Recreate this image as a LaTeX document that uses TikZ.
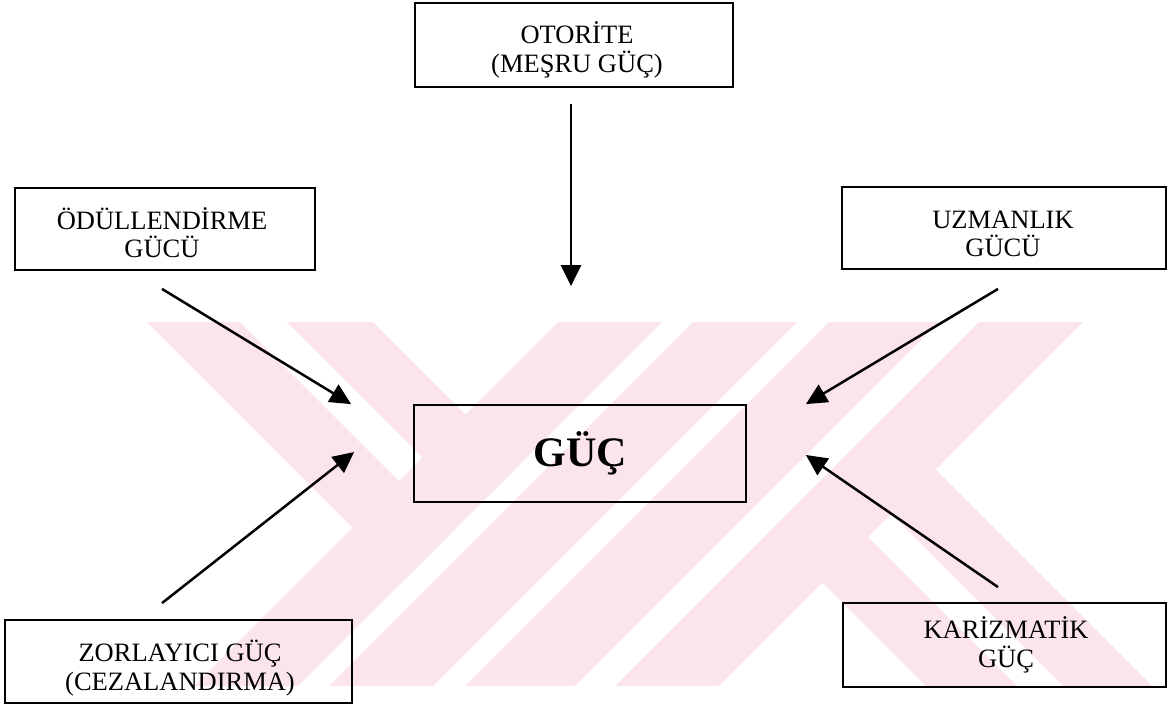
\documentclass[tikz,border=0pt]{standalone}
\usepackage{fontspec}
\setmainfont{Liberation Serif}
\usetikzlibrary{arrows.meta,calc}
\definecolor{wmpink}{RGB}{251,229,234}
\begin{document}
\begin{tikzpicture}[x=1pt,y=-1pt,
  box/.style={draw, line width=1.8pt, inner sep=0pt},
  lbl/.style={inner sep=0pt, align=center, font=\fontsize{26.5}{29}\selectfont},
  link/.style={line width=2.5pt, -{Triangle[length=21pt,width=20pt]}},
]
\useasboundingbox (0,0) rectangle (1169,705);
\fill[white] (0,0) rectangle (1169,705);

% striped emblem in the background
\begin{scope}
  \clip (0,322) rectangle (1169,685);
  % rising stripes
  \fill[wmpink] (580,300) -- (684,300) -- (284,700) -- (180,700) -- cycle;
  \fill[wmpink] (715,300) -- (819,300) -- (419,700) -- (315,700) -- cycle;
  \fill[wmpink] (851,300) -- (961,300) -- (561,700) -- (451,700) -- cycle;
  \fill[wmpink] (1001,300) -- (1105,300) -- (705,700) -- (601,700) -- cycle;
  % falling stripes, upper left
  \fill[wmpink] (125,300) -- (218,300) -- (451,533) -- (404.5,579.5) -- cycle;
  \fill[wmpink] (265,300) -- (351,300) -- (517.5,466.5) -- (474.5,509.5) -- cycle;
  % falling stripes, lower right
  \fill[wmpink] (883.5,417.5) -- (1166,700) -- (1077,700) -- (839,462) -- cycle;
  \fill[wmpink] (816,485) -- (1031,700) -- (940,700) -- (770.5,530.5) -- cycle;
\end{scope}

% boxes
\node[box, minimum width=318pt, minimum height=84pt] (oto)  at (574,45) {};
\node[box, minimum width=300pt, minimum height=82pt] (odul) at (165,229) {};
\node[box, minimum width=324pt, minimum height=82pt] (uzm)  at (1004,228) {};
\node[box, minimum width=332pt, minimum height=97pt] (guc)  at (580,453.5) {};
\node[box, minimum width=347pt, minimum height=83pt] (zor)  at (178.5,661.5) {};
\node[box, minimum width=323pt, minimum height=84pt] (kar)  at (1004.5,645) {};

% box texts
\node[lbl] (oto-t)  at (577,50)   {OTORİTE\\(MEŞRU GÜÇ)};
\node[lbl, font=\fontsize{26.5}{28}\selectfont] (odul-t) at (162,233) {ÖDÜLLENDİRME\\GÜCÜ};
\node[lbl, font=\fontsize{26.5}{27.5}\selectfont] (uzm-t)  at (1003,234) {UZMANLIK\\GÜCÜ};
\node[lbl, font=\fontsize{42}{48}\selectfont\bfseries] (guc-t) at (580,453) {GÜÇ};
\node[lbl] (zor-t)  at (180,668)  {ZORLAYICI GÜÇ\\(CEZALANDIRMA)};
\node[lbl] (kar-t)  at (1006,645) {KARİZMATİK\\GÜÇ};

% arrow ends
\coordinate (oto-out)  at ($(oto.south)+(-3,16)$);
\coordinate (oto-in)   at ($(guc.north)+(-9,-118)$);
\coordinate (odul-out) at ($(odul.south)+(-3,18)$);
\coordinate (odul-in)  at ($(guc.north west)+(-62,0)$);
\coordinate (uzm-out)  at ($(uzm.south)+(-6,19)$);
\coordinate (uzm-in)   at ($(guc.north east)+(59,0)$);
\coordinate (zor-out)  at ($(zor.north)+(-16.5,-16)$);
\coordinate (zor-in)   at ($(guc.west)+(-59,-1.5)$);
\coordinate (kar-out)  at ($(kar.north)+(-6.5,-15)$);
\coordinate (kar-in)   at ($(guc.east)+(59,1.5)$);

% arrows
\draw[link] (oto-out) -- (oto-in);
\draw[link] (odul-out) -- (odul-in);
\draw[link] (uzm-out) -- (uzm-in);
\draw[link] (zor-out) -- (zor-in);
\draw[link] (kar-out) -- (kar-in);
\end{tikzpicture}
\end{document}
